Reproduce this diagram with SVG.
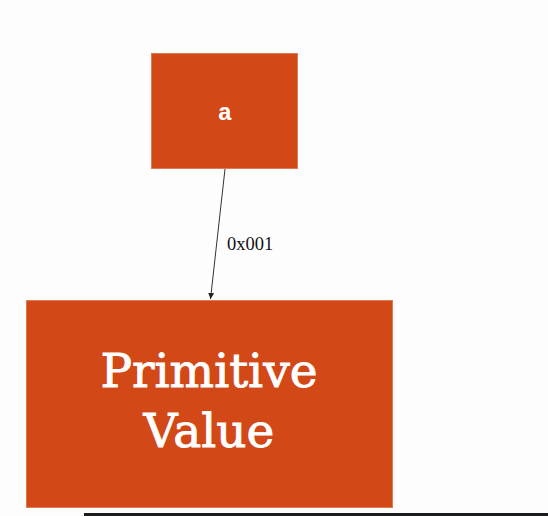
<svg xmlns="http://www.w3.org/2000/svg" width="548" height="516" viewBox="0 0 548 516">
<style>
.box{fill:#D24817;stroke:#E07A55;stroke-width:1}
.conn{stroke:#333;stroke-width:1;fill:none}
.lbl{font-family:"Liberation Serif",serif;font-size:18.5px;fill:#111}
.big{font-family:"DejaVu Serif",serif;font-size:47px;fill:#fff;stroke:#fff;stroke-width:0.9}
</style>
<defs>
<marker id="ah" viewBox="0 0 10 10" refX="10" refY="5" markerWidth="6" markerHeight="6" orient="auto" markerUnits="userSpaceOnUse">
<path d="M0,0 L10,5 L0,10 z" fill="#222"/>
</marker>
</defs>
<rect width="548" height="516" fill="#FEFDFE"/>
<g id="node-a">
<rect class="box" x="151.5" y="53.5" width="146" height="115"/>
<text x="225" y="120" text-anchor="middle" font-family="Liberation Mono, monospace" font-weight="bold" font-size="24" fill="#fff">a</text>
</g>
<g id="node-primitive">
<rect class="box" x="26.5" y="300.5" width="366" height="207"/>
<text class="big" x="209" y="387" text-anchor="middle">Primitive</text>
<text class="big" x="209" y="447" text-anchor="middle">Value</text>
</g>
<g id="connectors">
<line class="conn" x1="225" y1="169" x2="210.5" y2="299" marker-end="url(#ah)"/>
<text class="lbl" x="227" y="250">0x001</text>
</g>
<rect x="84" y="513" width="464" height="3" fill="#1a1c1e"/>
</svg>
